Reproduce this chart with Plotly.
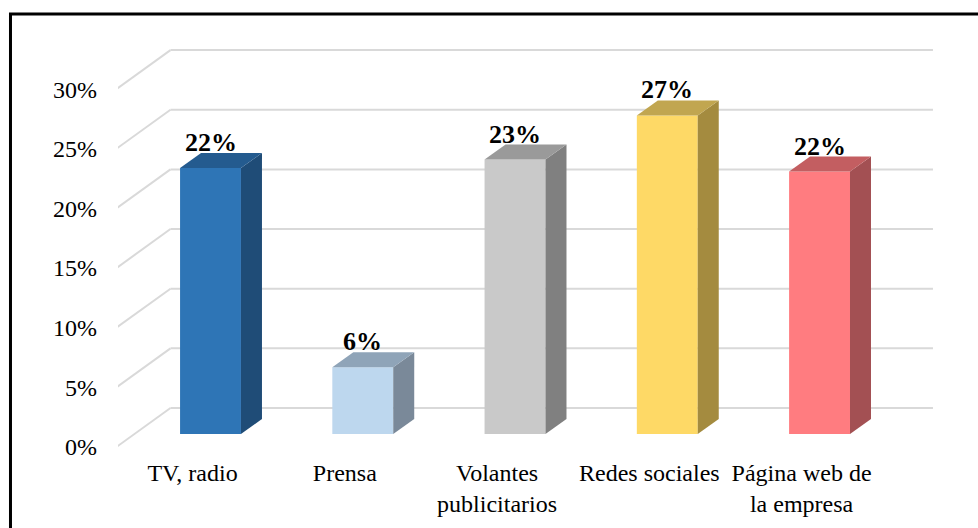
import plotly.graph_objects as go

# Survey results: preferred advertising channel (percent of respondents)
categories = ["TV, radio", "Prensa", "Volantes<br>publicitarios", "Redes sociales", "Página web de<br>la empresa"]
values = [22.3, 5.6, 23.0, 26.7, 22.0]
y_ticks = [0, 5, 10, 15, 20, 25, 30]
y_tick_labels = ["0%", "5%", "10%", "15%", "20%", "25%", "30%"]

front_colors = ["#2E75B6", "#BDD7EE", "#C9C9C9", "#FED966", "#FF7C80"]
side_colors = ["#1F4C77", "#7A8999", "#808080", "#A48B3F", "#A35053"]
top_colors = ["#245B8F", "#8FA4B8", "#9A9A9A", "#C1A650", "#C35E61"]

SERIF = "Liberation Serif"

# Pseudo-3D geometry in data units (x: category units, y: percent)
bar_width = 0.4
bar_dx, bar_dy = 0.138, 1.26          # depth of each bar block
front_dx, front_dy = -0.118, -1.09    # front edge of the floor relative to bar faces
back_dx, back_dy = 0.237, 2.18        # back wall relative to bar faces
x_left, x_right = -0.5, 4.508         # floor extent in categories (bar-face plane)

idx = list(range(len(categories)))

fig = go.Figure()

# Front faces of the bars
fig.add_trace(go.Bar(
    x=idx, y=values, width=bar_width,
    marker=dict(color=front_colors, line=dict(width=0)),
    hoverinfo="skip", showlegend=False,
))

# Side and top faces
for i, v in zip(idx, values):
    xl, xr = i - bar_width / 2, i + bar_width / 2
    fig.add_trace(go.Scatter(
        x=[xr, xr + bar_dx, xr + bar_dx, xr, xr],
        y=[0, bar_dy, v + bar_dy, v, 0],
        fill="toself", fillcolor=side_colors[i], mode="lines",
        line=dict(width=0), hoverinfo="skip", showlegend=False,
    ))
    fig.add_trace(go.Scatter(
        x=[xl, xr, xr + bar_dx, xl + bar_dx, xl],
        y=[v, v, v + bar_dy, v + bar_dy, v],
        fill="toself", fillcolor=top_colors[i], mode="lines",
        line=dict(width=0), hoverinfo="skip", showlegend=False,
    ))

# Value labels above each block
for i, v in zip(idx, values):
    fig.add_annotation(
        x=i, y=v + bar_dy, xref="x", yref="y", showarrow=False,
        text=f"<b>{v:.0f}%</b>", yanchor="bottom", yshift=-6,
        font=dict(family=SERIF, size=26, color="black"),
    )

# Gridlines: side wall diagonals and back wall horizontals
grid = dict(color="#D9D9D9", width=2)
shapes = []
for t in y_ticks:
    shapes.append(dict(type="line", xref="x", yref="y", layer="below",
                       x0=x_left + front_dx, y0=t + front_dy,
                       x1=x_left + back_dx, y1=t + back_dy, line=grid))
    shapes.append(dict(type="line", xref="x", yref="y", layer="below",
                       x0=x_left + back_dx, y0=t + back_dy,
                       x1=x_right + back_dx, y1=t + back_dy, line=grid))

# Outer frame
shapes.append(dict(type="rect", xref="paper", yref="paper",
                   x0=-0.130, y0=-0.2, x1=1.05, y1=1.062,
                   line=dict(color="black", width=3), fillcolor="rgba(0,0,0,0)"))

fig.update_layout(
    width=978, height=528,
    margin=dict(l=118, r=33, t=40, b=68),
    paper_bgcolor="white", plot_bgcolor="white",
    shapes=shapes,
    font=dict(family=SERIF, color="black"),
    xaxis=dict(
        range=[-0.6076, 4.824], showgrid=False, zeroline=False, showline=False,
        tickvals=[i + front_dx for i in idx], ticktext=categories,
        tickfont=dict(size=24, family=SERIF, color="black"),
        ticks="", ticklabelstandoff=-4, automargin=False, fixedrange=True,
    ),
    yaxis=dict(
        range=[-2.179, 33.026], showgrid=False, zeroline=False, showline=False,
        tickvals=[t + front_dy for t in y_ticks], ticktext=y_tick_labels,
        tickfont=dict(size=24, family=SERIF, color="black"),
        ticks="", ticklabelstandoff=20, automargin=False, fixedrange=True,
    ),
)

fig.write_html("out.html")
